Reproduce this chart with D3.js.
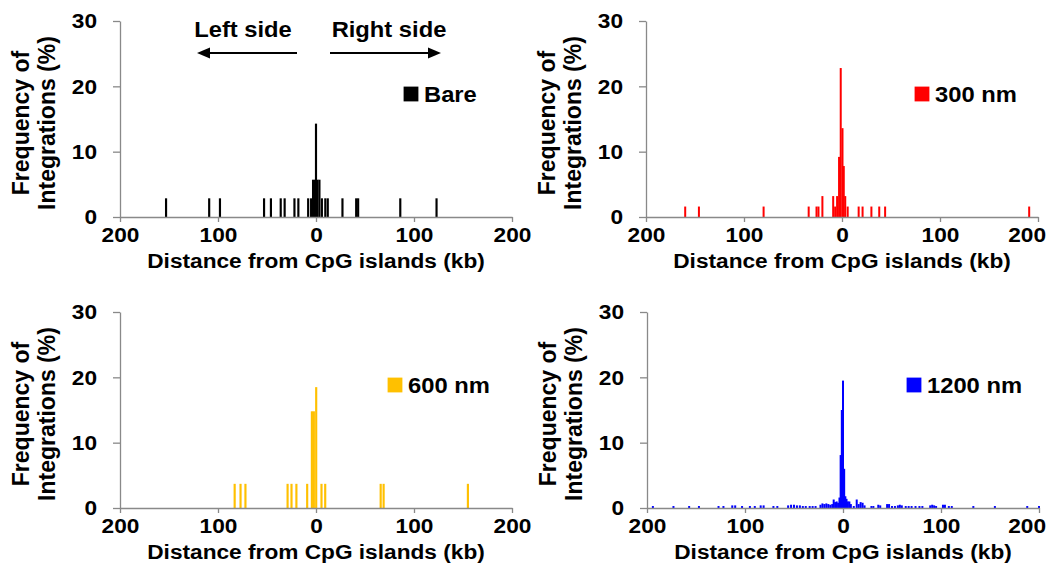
<!DOCTYPE html>
<html>
<head>
<meta charset="utf-8">
<script src="https://cdn.jsdelivr.net/npm/d3@7"></script>
<style>
  body { margin: 0; background: #fff; }
  svg { display: block; }
  text { font-family: "Liberation Sans", Arial, sans-serif; font-weight: bold; }
</style>
</head>
<body>
<div id="chart"></div>
<script>
// tick values (left side of the CpG island is negative kb, shown as absolute)
var xTicks = [-200, -100, 0, 100, 200];
var yTicks = [0, 10, 20, 30];
var xTitle = "Distance from CpG islands (kb)";
var yTitle = ["Frequency of", "Integrations (%)"];

// [distance kb, frequency %]
var bareBins = [[-153,2.86],[-109,2.86],[-98,2.86],[-53,2.86],[-46,2.86],[-36,2.86],[-32,2.86],[-22,2.86],[-18,2.86],[-8,2.86],[-5,2.86],
  [-3,5.71],[-1,5.71],[0,14.29],[1.5,5.71],[3.5,5.71],
  [6,2.86],[9.5,2.86],[12,2.86],[27,2.86],[41,2.86],[43,2.86],[86,2.86],[123,2.86]];
var nm300Bins = [[-160,1.6],[-146,1.6],[-80,1.6],[-34,1.6],[-26,1.6],[-24,1.6],[-20,3.2],[-9,3.2],[-7,1.6],[-5,3.2],
  [-3,9.2],[-1.3,22.8],[0.5,13.6],[1.8,7.8],[3.3,3.2],[5.8,1.6],
  [17,1.6],[21,1.6],[30,1.6],[38,1.6],[44,1.6],[191,1.6]];
var nm600Bins = [[-83,3.7],[-77,3.7],[-72,3.7],[-29,3.7],[-25,3.7],[-20,3.7],[-9,3.7],
  [-4.2,14.8],[-2.2,14.8],[0.2,18.5],
  [5.6,3.7],[9.4,3.7],[66,3.7],[69,3.7],[155,3.7]];
var nm1200Bins = [[-194,0.3],[-173,0.3],[-157,0.3],[-147,0.3],[-127,0.3],[-122,0.3],[-113,0.4],[-110,0.4],[-103,0.3],[-95,0.3],
  [-90,0.3],[-84,0.4],[-81,0.4],[-71,0.3],[-67,0.3],[-56,0.4],[-53,0.5],[-50,0.5],[-47,0.4],[-44,0.4],
  [-41,0.3],[-38,0.3],[-34,0.3],[-31,0.3],[-28,0.3],[-23,0.5],[-21,0.7],[-19,0.6],[-17,0.7],[-15,0.6],
  [-13,0.5],[-11,0.6],[-9.5,1.3],[-8,0.9],[-6.5,1.0],[-5,0.8],[-3.6,1.6],[-2.4,8.1],[-1.2,15.0],[0,19.5],
  [1.2,6.0],[2.4,1.8],[3.6,1.4],[5,1.0],[6.5,1.0],[8,0.6],[11,0.3],[14,1.3],[16,0.6],[18,0.9],
  [20,0.8],[22,0.4],[29,0.3],[31,0.3],[36,0.5],[38,0.4],[45,0.6],[47,0.6],[50,0.3],[53,0.3],
  [56,0.4],[58,0.5],[60,0.4],[64,0.3],[67,0.3],[70,0.3],[74,0.3],[78,0.3],[81,0.3],[89,0.4],
  [91,0.5],[93,0.4],[95,0.3],[102,0.5],[104,0.5],[108,0.3],[111,0.3],[133,0.3],[155,0.3],[188,0.3],[200,0.3]];

var W = 392, H = 196, SX = 1.08;
var axisCol = "#898989";

var panels = [
  {bins: bareBins,   label: "Bare",    color: "#000000", ox: 120, oy: 21,  binW: 2.2, legX: 284, arrows: true},
  {bins: nm300Bins,  label: "300 nm",  color: "#ff0000", ox: 646, oy: 21,  binW: 1.8, legX: 269},
  {bins: nm600Bins,  label: "600 nm",  color: "#ffc000", ox: 120, oy: 312, binW: 2.2, legX: 268},
  {bins: nm1200Bins, label: "1200 nm", color: "#0000ff", ox: 647, oy: 312, binW: 1.2, legX: 260}
];

var svg = d3.select("#chart").append("svg").attr("width", 1048).attr("height", 570);

// horizontal text, stretched a bit like the reference
function htext(g, x, y, str, size, anchor) {
  return g.append("text")
    .attr("transform", "translate(" + x + "," + y + ") scale(" + SX + ",1)")
    .attr("text-anchor", anchor || "start")
    .attr("font-size", size)
    .attr("fill", "#000")
    .text(str);
}

panels.forEach(function(p) {
  var g = svg.append("g").attr("transform", "translate(" + p.ox + "," + p.oy + ")");
  var x = d3.scaleLinear().domain([-200, 200]).range([0, W]);
  var y = d3.scaleLinear().domain([0, 30]).range([H, 0]);
  var bw = Math.max(2, x(p.binW) - x(0));

  g.append("g").selectAll("rect")
    .data(p.bins)
    .enter().append("rect")
    .attr("x", function(d) { return x(d[0]) - bw / 2; })
    .attr("y", function(d) { return y(d[1]); })
    .attr("width", bw)
    .attr("height", function(d) { return y(0) - y(d[1]); })
    .attr("fill", p.color);

  var ya = g.append("g")
    .call(d3.axisLeft(y).tickValues(yTicks).tickSize(7).tickSizeOuter(0).tickPadding(14.3))
    .attr("color", axisCol).attr("font-size", 21).attr("font-family", null);
  ya.selectAll("line, path").attr("stroke-width", 1.3);
  ya.selectAll("text").attr("fill", "#000").attr("transform", "scale(" + SX + ",1)");

  var xa = g.append("g").attr("transform", "translate(0," + H + ")")
    .call(d3.axisBottom(x).tickValues(xTicks).tickSize(5).tickSizeOuter(0).tickPadding(5)
      .tickFormat(function(d) { return Math.abs(d); }))
    .attr("color", axisCol).attr("font-size", 21).attr("font-family", null);
  xa.selectAll("line, path").attr("stroke-width", 1.3);
  xa.selectAll("text").attr("fill", "#000").attr("transform", "scale(" + SX + ",1)");
  // keep the last tick label inside the page
  xa.selectAll("text").each(function() {
    var b = this.getBoundingClientRect();
    if (b.right > 1046) d3.select(this).attr("transform", "translate(" + (1046 - b.right) + ",0) scale(" + SX + ",1)");
  });

  htext(g, W / 2, H + 51, xTitle, 21, "middle");

  yTitle.forEach(function(t, i) {
    g.append("text")
      .attr("transform", "translate(" + (-91 + i * 26) + "," + 102 + ") rotate(-90)")
      .attr("text-anchor", "middle")
      .attr("font-size", 23)
      .attr("fill", "#000")
      .text(t);
  });

  // legend
  g.append("rect").attr("x", p.legX).attr("y", 66).attr("width", 14).attr("height", 14)
    .attr("fill", p.color).attr("stroke", p.color).attr("stroke-width", 0.8);
  htext(g, p.legX + 20, 81, p.label, 22);

  if (p.arrows) {
    htext(g, 123, 16, "Left side", 22, "middle");
    htext(g, 269, 16, "Right side", 22, "middle");
    var ay = 32;
    g.append("line").attr("x1", 177).attr("x2", 86).attr("y1", ay).attr("y2", ay)
      .attr("stroke", "#000").attr("stroke-width", 2);
    g.append("path").attr("d", "M77," + ay + "L90," + (ay - 5.5) + "L90," + (ay + 5.5) + "Z").attr("fill", "#000");
    g.append("line").attr("x1", 210).attr("x2", 312).attr("y1", ay).attr("y2", ay)
      .attr("stroke", "#000").attr("stroke-width", 2);
    g.append("path").attr("d", "M321," + ay + "L308," + (ay - 5.5) + "L308," + (ay + 5.5) + "Z").attr("fill", "#000");
  }
});
</script>
</body>
</html>
